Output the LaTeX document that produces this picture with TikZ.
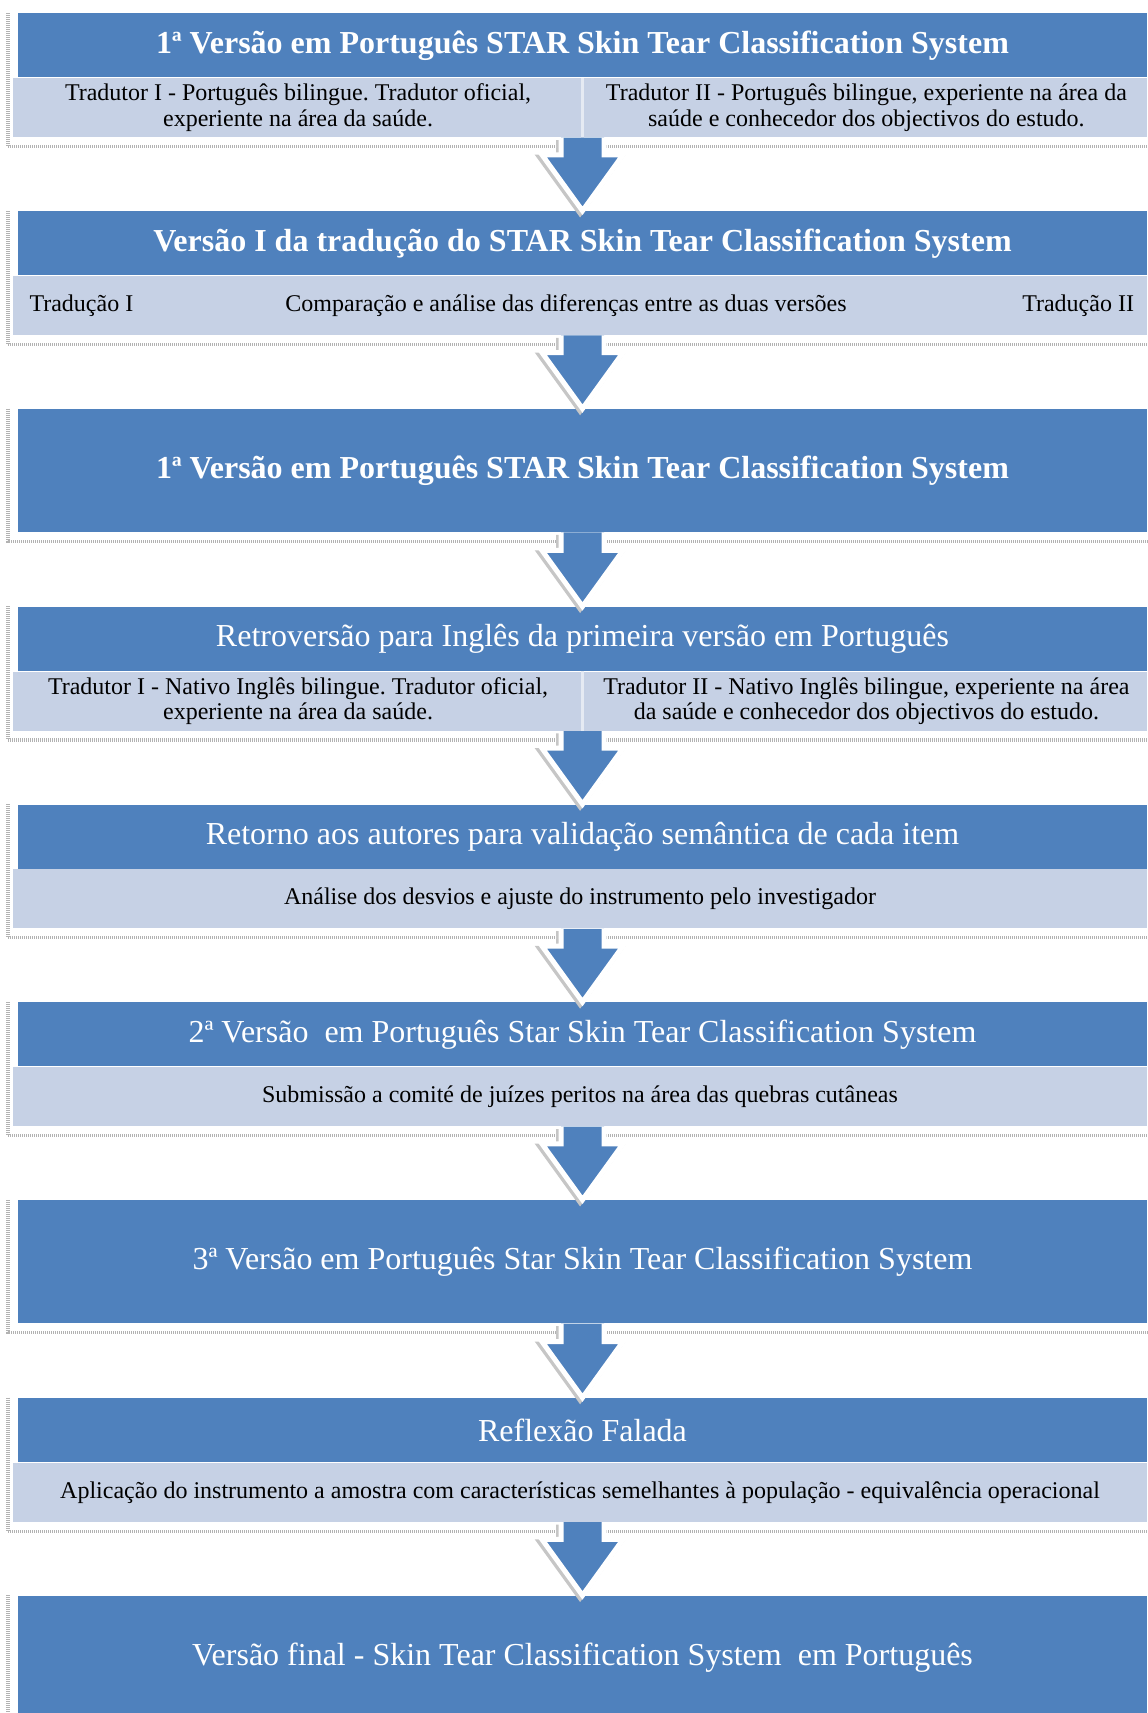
\documentclass[tikz,border=0pt]{standalone}
\usepackage{fontspec}
\setmainfont{Liberation Serif}
\usepackage{tikz}
\usetikzlibrary{positioning}
\frenchspacing

\definecolor{stepblue}{HTML}{4F81BD}
\definecolor{steplight}{HTML}{C6D1E5}

% shadow line left and below a block
\newcommand{\blockshade}[2]{\draw[shadeline] (sl |- #1.north) |- ([yshift=-4.5pt]#2.south east);}
% block arrow from one block to the next
\newcommand{\flowarrow}[2]{%
	\filldraw[arrowbody] ([xshift=-10.75pt]#2.north |- #1.south) -- ([xshift=-10.75pt,yshift=28pt]#2.north)
	-- ([xshift=-20.25pt,yshift=28pt]#2.north) -- (#2.north) -- ([xshift=20.25pt,yshift=28pt]#2.north)
	-- ([xshift=10.75pt,yshift=28pt]#2.north) -- ([xshift=10.75pt]#2.north |- #1.south);}

\begin{document}
\begin{tikzpicture}[
		headbox/.style={fill=stepblue, text=white, minimum width=564.5pt, minimum height=32pt, inner sep=0pt, font=\fontsize{16}{19}\selectfont},
		tallbox/.style={headbox, minimum height=61.5pt},
		bandbox/.style={fill=steplight, minimum width=567pt, minimum height=29.5pt, inner sep=0pt, align=center, font=\fontsize{12}{12.6}\selectfont},
		celltext/.style={inner sep=0pt, align=center, font=\fontsize{12}{12.6}\selectfont},
		divider/.style={draw=white!55!steplight, line width=1.2pt},
		shadeline/.style={draw=gray!60, line width=1.6pt, dash pattern=on 0.5pt off 0.5pt},
		arrowbody/.style={fill=stepblue, draw=white, line width=2.5pt, line join=miter,
			preaction={draw=gray!45, line width=2.5pt, transform canvas={shift={(-1.2pt,-1.2pt)}}}},
		node distance=37pt]
	\useasboundingbox (0,0) rectangle (573.5pt,-856.5pt);
	\coordinate (sl) at (4pt,0);

	% blocks
	\node[headbox, anchor=north] (b1) at (291.25pt,-6.5pt) {\bfseries 1ª Versão em Português STAR Skin Tear Classification System};
	\node[bandbox, anchor=north west] (l1) at ([xshift=-2.5pt]b1.south west) {};
	\node[celltext] (t1a) at ([xshift=142.75pt]l1.west) {Tradutor I - Português bilingue. Tradutor oficial,\\experiente na área da saúde.};
	\node[celltext] (t1b) at ([xshift=-140.5pt]l1.east) {Tradutor II - Português bilingue, experiente na área da\\saúde e conhecedor dos objectivos do estudo.};

	\node[headbox, below=66.5pt of b1] (b2) {\bfseries Versão I da tradução do STAR Skin Tear Classification System};
	\node[bandbox, anchor=north west] (l2) at ([xshift=-2.5pt]b2.south west) {};
	\node[celltext, anchor=west] (t2a) at ([xshift=8.25pt]l2.west) {Tradução I};
	\node[celltext] (t2b) at ([xshift=-7pt]l2.center) {Comparação e análise das diferenças entre as duas versões};
	\node[celltext, anchor=east] (t2c) at ([xshift=-6.5pt]l2.east) {Tradução II};

	\node[tallbox, below=66.5pt of b2] (b3) {\bfseries 1ª Versão em Português STAR Skin Tear Classification System};

	\node[headbox, below=of b3] (b4) {Retroversão para Inglês da primeira versão em Português};
	\node[bandbox, anchor=north west] (l4) at ([xshift=-2.5pt]b4.south west) {};
	\node[celltext] (t4a) at ([xshift=142.75pt]l4.west) {Tradutor I - Nativo Inglês bilingue. Tradutor oficial,\\experiente na área da saúde.};
	\node[celltext] (t4b) at ([xshift=-140.5pt]l4.east) {Tradutor II - Nativo Inglês bilingue, experiente na área\\da saúde e conhecedor dos objectivos do estudo.};

	\node[headbox, below=66.5pt of b4] (b5) {Retorno aos autores para validação semântica de cada item};
	\node[bandbox, anchor=north west] (l5) at ([xshift=-2.5pt]b5.south west) {Análise dos desvios e ajuste do instrumento pelo investigador};

	\node[headbox, below=66.5pt of b5] (b6) {2ª Versão\ \ em Português Star Skin Tear Classification System};
	\node[bandbox, anchor=north west] (l6) at ([xshift=-2.5pt]b6.south west) {Submissão a comité de juízes peritos na área das quebras cutâneas};

	\node[tallbox, below=66.5pt of b6] (b7) {3ª Versão em Português Star Skin Tear Classification System};

	\node[headbox, below=of b7] (b8) {Reflexão Falada};
	\node[bandbox, anchor=north west] (l8) at ([xshift=-2.5pt]b8.south west) {Aplicação do instrumento a amostra com características semelhantes à população - equivalência operacional};

	\node[tallbox, below=66.5pt of b8] (b9) {Versão final - Skin Tear Classification System\ \ em Português};

	% cell dividers
	\draw[divider] (b1.south) -- (b1.south |- l1.south);
	\draw[divider] (b4.south) -- (b4.south |- l4.south);

	% shadows
	\blockshade{b1}{l1}
	\blockshade{b2}{l2}
	\blockshade{b3}{b3}
	\blockshade{b4}{l4}
	\blockshade{b5}{l5}
	\blockshade{b6}{l6}
	\blockshade{b7}{b7}
	\blockshade{b8}{l8}
	\blockshade{b9}{b9}

	% arrows
	\flowarrow{l1}{b2}
	\flowarrow{l2}{b3}
	\flowarrow{b3}{b4}
	\flowarrow{l4}{b5}
	\flowarrow{l5}{b6}
	\flowarrow{l6}{b7}
	\flowarrow{b7}{b8}
	\flowarrow{l8}{b9}
\end{tikzpicture}
\end{document}
